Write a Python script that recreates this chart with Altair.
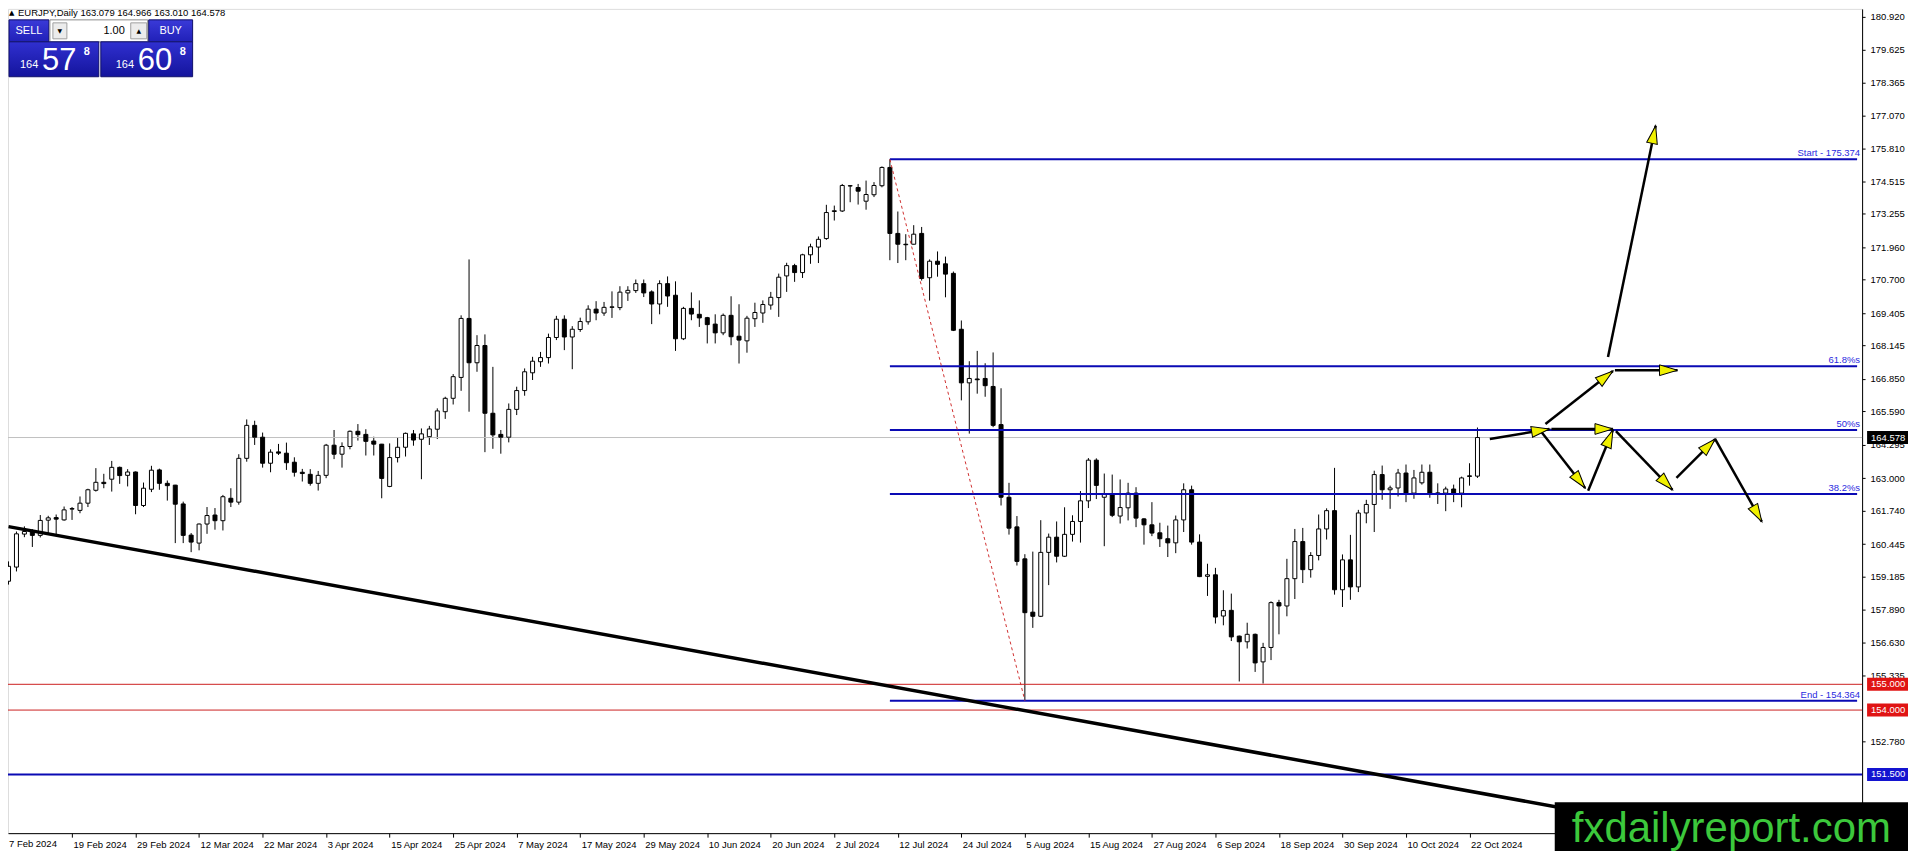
import math
import altair as alt
import pandas as pd

# ---------------- data ----------------
bars = list(range(186))

opens = [
    159.00, 159.55, 160.83, 160.93, 160.78, 161.37, 161.47, 161.38, 161.80, 161.75,
    162.03, 162.53, 162.84, 162.96, 163.42, 163.11, 163.24, 161.94, 162.57, 163.32,
    162.80, 162.73, 162.00, 160.79, 160.48, 161.22, 161.57, 161.35, 162.22, 162.07,
    163.77, 165.05, 164.59, 163.58, 164.02, 163.97, 163.62, 163.23, 163.15, 162.80,
    163.11, 164.28, 163.93, 164.23, 164.82, 164.70, 164.44, 164.32, 162.68, 163.80,
    164.20, 164.72, 164.51, 164.61, 164.90, 165.58, 166.10, 166.91, 169.20, 167.48,
    168.15, 165.52, 164.70, 164.59, 165.67, 166.40, 167.09, 167.52, 167.68, 168.46,
    169.17, 168.48, 168.77, 169.07, 169.56, 169.41, 169.63, 169.62, 170.19, 170.28,
    170.55, 170.23, 169.76, 170.55, 170.10, 168.41, 169.59, 169.36, 169.23, 168.98,
    168.64, 169.32, 168.51, 168.33, 169.19, 169.41, 169.72, 170.01, 170.85, 171.25,
    170.98, 171.67, 171.97, 172.30, 173.35, 173.37, 174.35, 174.28, 173.75, 174.00,
    174.35, 175.06, 172.50, 172.08, 172.08, 172.50, 170.78, 171.42, 171.32, 170.95,
    168.78, 166.70, 166.85, 166.87, 166.56, 165.08, 162.26, 161.11, 159.87, 157.80,
    157.64, 160.12, 160.71, 159.97, 160.82, 161.32, 162.12, 163.70, 162.26, 162.36,
    161.53, 161.85, 162.42, 161.42, 161.19, 160.88, 160.65, 160.49, 161.38, 162.55,
    160.52, 159.19, 159.25, 157.65, 157.87, 156.87, 156.65, 156.94, 155.87, 156.43,
    158.17, 158.04, 159.10, 160.54, 159.45, 160.00, 161.03, 161.74, 158.67, 159.83,
    158.78, 161.65, 161.98, 163.14, 162.55, 162.62, 163.20, 162.42, 162.82, 163.23,
    162.43, 162.42, 162.58, 162.42, 163.09, 163.079,
]
highs = [
    159.77, 160.93, 161.13, 161.02, 161.57, 161.54, 161.59, 161.90, 161.88, 162.29,
    162.59, 163.39, 163.17, 163.67, 163.45, 163.35, 163.26, 162.83, 163.48, 163.37,
    162.91, 162.74, 162.09, 160.87, 161.24, 161.88, 161.84, 162.35, 162.61, 163.93,
    165.28, 165.23, 164.77, 164.12, 164.33, 164.38, 163.81, 163.36, 163.35, 163.28,
    164.33, 164.87, 164.39, 164.85, 165.10, 164.90, 164.61, 164.33, 164.35, 164.59,
    164.77, 164.87, 164.93, 165.03, 165.71, 166.16, 167.04, 169.32, 171.49, 168.55,
    168.58, 167.32, 164.87, 165.90, 166.55, 167.26, 167.71, 167.90, 168.61, 169.30,
    169.32, 168.90, 169.23, 169.71, 169.87, 169.84, 170.25, 170.45, 170.45, 170.71,
    170.71, 170.29, 170.68, 170.83, 170.64, 169.65, 170.21, 169.90, 169.26, 169.36,
    169.39, 170.06, 169.75, 169.30, 169.81, 169.90, 170.23, 170.94, 171.36, 171.32,
    171.71, 172.10, 172.38, 173.61, 173.58, 174.42, 174.37, 174.42, 174.55, 174.49,
    175.10, 175.374, 173.35, 172.47, 172.82, 172.75, 171.49, 171.80, 171.60, 171.02,
    169.12, 167.54, 167.94, 167.46, 167.88, 166.49, 162.82, 161.53, 160.05, 160.15,
    161.37, 160.85, 161.32, 161.87, 161.56, 162.50, 163.78, 163.77, 163.18, 163.14,
    162.95, 162.82, 162.65, 161.45, 162.07, 161.27, 161.16, 161.55, 162.80, 162.71,
    160.82, 159.68, 159.52, 158.65, 158.52, 156.89, 157.39, 156.97, 156.61, 158.22,
    158.28, 159.87, 161.03, 161.07, 160.13, 161.59, 161.83, 163.40, 160.04, 160.80,
    161.77, 162.16, 163.29, 163.49, 162.71, 163.36, 163.53, 163.32, 163.53, 163.53,
    162.80, 162.67, 162.75, 163.06, 163.58, 164.966,
]
lows = [
    158.87, 159.38, 160.71, 160.33, 160.70, 160.87, 160.80, 161.35, 161.38, 161.64,
    161.88, 162.48, 162.61, 162.48, 162.78, 162.68, 161.60, 161.88, 162.46, 162.55,
    162.13, 160.48, 160.48, 160.13, 160.20, 160.84, 161.00, 160.97, 161.88, 161.97,
    163.64, 164.29, 163.41, 163.23, 163.90, 163.32, 163.06, 162.87, 162.71, 162.52,
    163.00, 163.74, 163.41, 164.12, 164.46, 163.88, 163.88, 162.22, 162.65, 163.61,
    163.84, 164.26, 162.96, 164.29, 164.52, 165.30, 165.86, 166.39, 165.58, 167.13,
    164.01, 164.14, 163.95, 164.39, 165.45, 166.20, 166.81, 167.32, 167.45, 168.36,
    167.97, 167.23, 168.68, 168.96, 169.13, 169.30, 169.22, 169.52, 169.88, 170.19,
    170.03, 168.98, 169.36, 169.65, 167.94, 168.36, 169.13, 168.87, 168.23, 168.23,
    168.55, 168.16, 167.45, 167.87, 168.87, 169.03, 169.54, 169.26, 170.23, 170.62,
    170.77, 171.32, 171.35, 172.25, 173.00, 173.33, 173.71, 173.62, 173.42, 173.91,
    174.29, 171.46, 171.35, 171.46, 172.07, 170.67, 169.89, 170.82, 170.02, 168.71,
    166.02, 164.73, 166.28, 166.16, 164.98, 161.94, 160.81, 159.61, 154.364, 157.19,
    157.61, 158.85, 159.73, 159.94, 160.54, 160.50, 161.84, 162.19, 160.36, 161.49,
    161.24, 161.36, 161.10, 160.42, 160.75, 160.33, 159.94, 160.09, 160.91, 160.42,
    159.16, 158.43, 157.36, 157.29, 156.68, 155.11, 156.39, 155.48, 155.03, 155.94,
    156.94, 157.64, 158.31, 158.93, 159.14, 159.81, 160.62, 158.48, 158.00, 158.28,
    158.58, 161.25, 160.91, 162.16, 161.81, 162.29, 162.07, 162.20, 162.75, 162.24,
    162.00, 161.72, 162.07, 161.87, 162.71, 163.010,
]
closes = [
    159.58, 160.84, 160.93, 160.78, 161.36, 161.46, 161.41, 161.77, 161.82, 162.03,
    162.55, 162.84, 162.79, 163.42, 163.10, 163.24, 161.94, 162.61, 163.31, 162.80,
    162.71, 161.99, 160.78, 160.52, 161.22, 161.55, 161.35, 162.28, 162.07, 163.77,
    165.05, 164.59, 163.58, 164.01, 163.97, 163.60, 163.23, 163.18, 162.80, 163.11,
    164.28, 163.93, 164.23, 164.82, 164.69, 164.43, 164.32, 162.99, 163.80, 164.20,
    164.74, 164.48, 164.72, 164.91, 165.61, 166.10, 166.94, 169.20, 167.48, 168.15,
    165.52, 164.68, 164.59, 165.67, 166.40, 167.13, 167.54, 167.68, 168.46, 169.17,
    168.48, 168.78, 169.08, 169.56, 169.41, 169.63, 169.65, 170.22, 170.29, 170.55,
    170.19, 169.76, 170.55, 170.07, 168.41, 169.59, 169.37, 169.22, 168.96, 168.64,
    169.32, 168.49, 168.36, 169.21, 169.43, 169.74, 170.02, 170.80, 171.25, 170.98,
    171.67, 171.98, 172.27, 173.31, 173.38, 174.36, 174.34, 174.14, 174.01, 174.36,
    175.06, 172.50, 172.08, 172.06, 172.47, 170.75, 171.42, 171.30, 170.92, 168.74,
    166.70, 166.87, 166.82, 166.59, 165.05, 162.26, 161.06, 159.77, 157.78, 157.64,
    160.12, 160.71, 159.97, 160.82, 161.32, 162.12, 163.70, 162.72, 162.40, 161.56,
    161.86, 162.42, 161.45, 161.19, 160.87, 160.65, 160.49, 161.38, 162.55, 160.52,
    159.18, 159.25, 157.61, 157.86, 156.84, 156.65, 156.94, 155.83, 156.43, 158.17,
    158.04, 159.10, 160.54, 159.45, 160.00, 161.03, 161.74, 158.67, 159.83, 158.78,
    161.65, 161.98, 163.14, 162.55, 162.62, 163.20, 162.42, 163.01, 163.23, 162.42,
    162.39, 162.58, 162.42, 163.01, 163.07, 164.578,
]

date_labels = [
    "7 Feb 2024", "19 Feb 2024", "29 Feb 2024", "12 Mar 2024", "22 Mar 2024", "3 Apr 2024",
    "15 Apr 2024", "25 Apr 2024", "7 May 2024", "17 May 2024", "29 May 2024", "10 Jun 2024",
    "20 Jun 2024", "2 Jul 2024", "12 Jul 2024", "24 Jul 2024", "5 Aug 2024", "15 Aug 2024",
    "27 Aug 2024", "6 Sep 2024", "18 Sep 2024", "30 Sep 2024", "10 Oct 2024", "22 Oct 2024",
]
date_tick_bars = [8 * k for k in range(len(date_labels))]

price_ticks = [180.920, 179.625, 178.365, 177.070, 175.810, 174.515, 173.255, 171.960,
               170.700, 169.405, 168.145, 166.850, 165.590, 164.295, 163.000, 161.740,
               160.445, 159.185, 157.890, 156.630, 155.335, 152.780]

fib_names = ["Start - 175.374", "61.8%s", "50%s", "38.2%s", "End - 154.364"]
fib_levels = [175.374, 167.348, 164.869, 162.390, 154.364]
fib_start_bar = 111
fib_end_bar = 128

last_price = 164.578
red_levels = [155.000, 154.000]
blue_level = 151.500

trend_bars = [0, 200]
trend_prices = [161.12, 149.96]

arrow_x1 = [186.56, 193.56, 202.31, 201.44, 194.31, 193.06, 198.94, 202.44, 210.06, 214.94]
arrow_y1 = [164.52, 165.10, 167.19, 167.70, 164.91, 164.79, 162.51, 164.83, 163.01, 164.52]
arrow_x2 = [194.06, 202.06, 210.19, 207.44, 202.06, 198.56, 202.06, 209.56, 214.94, 220.81]
arrow_y2 = [164.91, 167.16, 167.19, 176.68, 164.91, 162.62, 164.87, 162.55, 164.52, 161.31]

box_prices = [164.578, 155.000, 154.000, 151.500]
box_texts = ["164.578", "155.000", "154.000", "151.500"]

header_text = "EURJPY,Daily  163.079 164.966 163.010 164.578"
lot_text = "1.00"
sell_big, sell_small, sell_pip = "57", "164", "8"
buy_big, buy_small, buy_pip = "60", "164", "8"
logo_text = "fxdailyreport.com"

# ---------------- layout / styles ----------------
W, H = 1858, 826
PAD_B = 18
X_DOM = [0.5625, 232.8125]
Y_DOM = [149.223, 181.214]
PX_PER_BAR = W / (X_DOM[1] - X_DOM[0])
PX_PER_PRICE = H / (Y_DOM[1] - Y_DOM[0])

FONT = "Liberation Sans"
BLUE = "#0a0ab4"
LABEL_BLUE = "#2a2ae0"
RED = "#cc2020"
box_fills = ["#000000", "#e01414", "#e01414", "#1414d0"]

xs = alt.Scale(domain=X_DOM, nice=False, zero=False)
ys = alt.Scale(domain=Y_DOM, nice=False, zero=False)

labels_js = "[" + ",".join("'%s'" % d for d in date_labels) + "]"
x_axis = alt.Axis(values=date_tick_bars[1:], labelExpr=labels_js + "[round(datum.value / 8)]",
                  orient="bottom", title=None, grid=False, tickSize=4, tickColor="black",
                  domainColor="black", labelPadding=2, labelAlign="left", labelBaseline="top",
                  labelOffset=1, labelFlush=False, labelOverlap=False, labelFont=FONT,
                  labelFontSize=9.5, labelColor="black")
y_axis = alt.Axis(values=price_ticks, format=".3f", orient="right", title=None, grid=False,
                  tickSize=3, tickColor="black", domainColor="black", labelPadding=5,
                  labelFlush=False, labelOverlap=False, labelFont=FONT, labelFontSize=9.5,
                  labelColor="black")


def X(f):
    return alt.X(f, type="quantitative", scale=xs, axis=x_axis)


def Y(f):
    return alt.Y(f, type="quantitative", scale=ys, axis=y_axis)


candles = pd.DataFrame({"bar": bars, "open": opens, "high": highs, "low": lows, "close": closes})
up = candles[candles["close"] >= candles["open"]]
dn = candles[candles["close"] < candles["open"]]

one = pd.DataFrame({"k": [1]})

layers = []

# candles (wicks first; they carry both axes)
layers.append(alt.Chart(candles).mark_rule(color="black", strokeWidth=1, clip=True)
              .encode(x=X("bar"), y=Y("low"), y2="high"))

# current price line (behind bodies)
layers.append(alt.Chart(pd.DataFrame({"p": [last_price]})).mark_rule(color="#c0c0c0", strokeWidth=1)
              .encode(y=Y("p")))

layers.append(alt.Chart(up).mark_bar(size=4, fill="white", stroke="black", strokeWidth=1, clip=True)
              .encode(x=X("bar"), y=Y("open"), y2="close"))
layers.append(alt.Chart(dn).mark_bar(size=4, fill="black", stroke="black", strokeWidth=1, clip=True)
              .encode(x=X("bar"), y=Y("open"), y2="close"))

# horizontal levels
layers.append(alt.Chart(pd.DataFrame({"p": red_levels})).mark_rule(color=RED, strokeWidth=1)
              .encode(y=Y("p")))
layers.append(alt.Chart(pd.DataFrame({"p": [blue_level]})).mark_rule(color=BLUE, strokeWidth=2)
              .encode(y=Y("p")))

fib = pd.DataFrame({"name": fib_names, "level": fib_levels,
                    "x1": [fib_start_bar] * len(fib_levels), "x2": [X_DOM[1]] * len(fib_levels)})
layers.append(alt.Chart(fib).mark_rule(color=BLUE, strokeWidth=2, clip=True)
              .encode(x=X("x1"), x2="x2", y=Y("level")))
layers.append(alt.Chart(fib).mark_text(align="right", baseline="bottom", dy=-1, color=LABEL_BLUE,
                                       font=FONT, fontSize=9.5)
              .encode(x=alt.value(W - 2), y=Y("level"), text="name"))

# fib dotted connector
layers.append(alt.Chart(pd.DataFrame({"x1": [fib_start_bar], "x2": [fib_end_bar],
                                      "y1": [fib_levels[0]], "y2": [fib_levels[-1]]}))
              .mark_rule(color="#d03030", strokeWidth=1, strokeDash=[3, 3])
              .encode(x=X("x1"), x2="x2", y=Y("y1"), y2="y2"))

# trend line
layers.append(alt.Chart(pd.DataFrame({"bar": trend_bars, "price": trend_prices}))
              .mark_line(color="black", strokeWidth=3.5, clip=True)
              .encode(x=X("bar"), y=Y("price")))

# arrows
arrows = pd.DataFrame({"x1": arrow_x1, "y1": arrow_y1, "x2": arrow_x2, "y2": arrow_y2})
arrows["ang"] = [
    math.degrees(math.atan2((b - a) * PX_PER_BAR, (d - c) * PX_PER_PRICE)) % 360
    for a, b, c, d in zip(arrow_x1, arrow_x2, arrow_y1, arrow_y2)
]
layers.append(alt.Chart(arrows).mark_rule(color="black", strokeWidth=2.5)
              .encode(x=X("x1"), x2="x2", y=Y("y1"), y2="y2"))
layers.append(alt.Chart(arrows).mark_point(shape="M0,0L0.6,2L-0.6,2Z", size=324, filled=True,
                                           fill="#f0f000", stroke="black", strokeWidth=1, opacity=1)
              .encode(x=X("x2"), y=Y("y2"), angle=alt.Angle("ang", type="quantitative", scale=None)))

# price boxes on the axis
bh = 6.5 / PX_PER_PRICE
boxes = pd.DataFrame({"p": box_prices, "t": box_texts, "fill": box_fills,
                      "top": [p + bh for p in box_prices], "bot": [p - bh for p in box_prices]})
layers.append(alt.Chart(boxes).mark_rect()
              .encode(x=alt.value(W + 5), x2=alt.value(W + 46), y=Y("top"), y2="bot",
                      color=alt.Color("fill:N", scale=None)))
layers.append(alt.Chart(boxes).mark_text(align="left", baseline="middle", color="white",
                                         font=FONT, fontSize=9.5)
              .encode(x=alt.value(W + 9), y=Y("p"), text="t"))

# first date label (its tick lies left of the visible area)
layers.append(alt.Chart(pd.DataFrame({"t": [date_labels[0]]}))
              .mark_text(align="left", baseline="top", font=FONT, fontSize=9.5, color="black")
              .encode(x=alt.value(1), y=alt.value(H + 6), text="t"))

# logo
layers.append(alt.Chart(one).mark_rect(color="black")
              .encode(x=alt.value(1550), x2=alt.value(W + 46), y=alt.value(795), y2=alt.value(H + PAD_B)))
layers.append(alt.Chart(pd.DataFrame({"t": [logo_text]}))
              .mark_text(align="center", baseline="middle", font=FONT, fontSize=42, color="#3cc83c")
              .encode(x=alt.value(1727), y=alt.value(822), text="t"))

# header
layers.append(alt.Chart(pd.DataFrame({"t": ["\u25b2"]}))
              .mark_text(align="left", baseline="middle", font="DejaVu Sans", fontSize=7, color="black")
              .encode(x=alt.value(1), y=alt.value(4), text="t"))
layers.append(alt.Chart(pd.DataFrame({"t": [header_text]}))
              .mark_text(align="left", baseline="middle", font=FONT, fontSize=9.5, color="black")
              .encode(x=alt.value(10), y=alt.value(4), text="t"))


# one-click trading panel
def prect(x1, x2, y1, y2, fill, stroke=None):
    kw = dict(fill=fill)
    if stroke:
        kw.update(stroke=stroke, strokeWidth=1)
    return (alt.Chart(one).mark_rect(**kw)
            .encode(x=alt.value(x1), x2=alt.value(x2), y=alt.value(y1), y2=alt.value(y2)))


def ptext(x, y, t, size, color="white", align="left", baseline="alphabetic", weight="normal", font=FONT):
    return (alt.Chart(pd.DataFrame({"t": [t]}))
            .mark_text(align=align, baseline=baseline, font=font, fontSize=size, color=color,
                       fontWeight=weight)
            .encode(x=alt.value(x), y=alt.value(y), text="t"))


big_grad = alt.Gradient(gradient="linear", x1=0, y1=0, x2=0, y2=1,
                        stops=[alt.GradientStop(color="#3030d0", offset=0),
                               alt.GradientStop(color="#14149c", offset=1)])
head_grad = alt.Gradient(gradient="linear", x1=0, y1=0, x2=0, y2=1,
                         stops=[alt.GradientStop(color="#3a3ad8", offset=0),
                                alt.GradientStop(color="#2020b8", offset=1)])

layers += [
    prect(1, 41, 11, 33, head_grad, "#10106a"),
    prect(42, 140, 11, 33, "white", "#8c8c8c"),
    prect(45, 59, 14, 30, "#ececec", "#a0a0a0"),
    prect(123, 139, 14, 30, "#ececec", "#a0a0a0"),
    prect(141, 185, 11, 33, head_grad, "#10106a"),
    prect(1, 91, 33, 68, big_grad, "#10106a"),
    prect(93, 185, 33, 68, big_grad, "#10106a"),
    ptext(52, 22, "\u25bc", 6, color="black", align="center", baseline="middle", font="DejaVu Sans"),
    ptext(131, 22, "\u25b2", 6, color="black", align="center", baseline="middle", font="DejaVu Sans"),
    ptext(117, 22, lot_text, 11, color="black", align="right", baseline="middle"),
    ptext(21, 22, "SELL", 11, align="center", baseline="middle"),
    ptext(163, 22, "BUY", 11, align="center", baseline="middle"),
    ptext(12, 59, sell_small, 11),
    ptext(34, 61, sell_big, 31),
    ptext(76, 46, sell_pip, 11, weight="bold"),
    ptext(108, 59, buy_small, 11),
    ptext(130, 61, buy_big, 31),
    ptext(172, 46, buy_pip, 11, weight="bold"),
]

chart = (alt.layer(*layers)
         .properties(width=W, height=H,
                     padding={"left": 0, "top": 0, "right": 46, "bottom": PAD_B},
                     autosize=alt.AutoSizeParams(type="none"))
         .configure_view(stroke="black", strokeWidth=1)
         .configure(background="white"))

chart.save("out.html", embed_options={"renderer": "svg", "actions": False})
